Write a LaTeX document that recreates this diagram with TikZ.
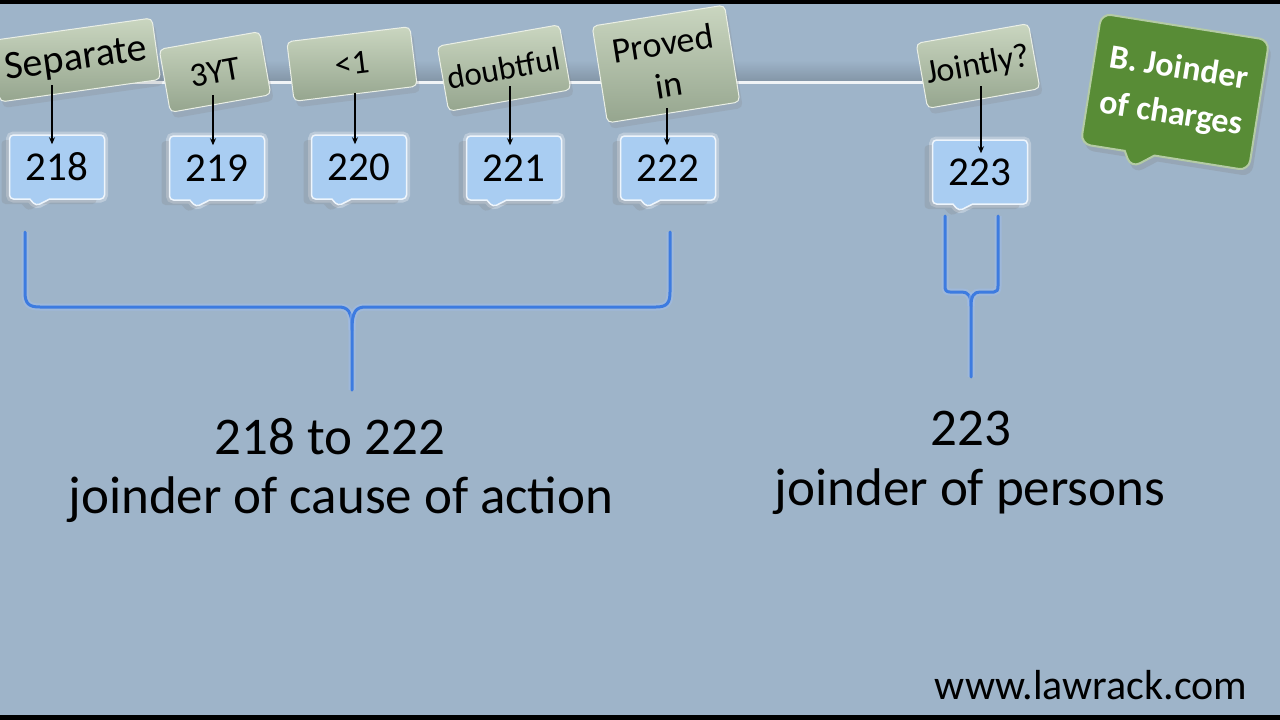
\documentclass[tikz,border=0pt]{standalone}
\usepackage{fontspec}
\setmainfont{Carlito}
\usetikzlibrary{shapes.callouts,shadows,arrows.meta,calc}
\definecolor{bg}{HTML}{9EB4C9}
\definecolor{numfill}{HTML}{A9CDF2}
\definecolor{labtop}{HTML}{CAD6C0}
\definecolor{labbot}{HTML}{95A58E}
\definecolor{bracec}{HTML}{3D7BE0}
\definecolor{grn}{HTML}{588C36}
\begin{document}
\begin{tikzpicture}[x=1pt,y=-1pt,
  numbox/.style={rectangle callout, rounded corners=4pt, minimum width=95pt, minimum height=64pt,
    inner sep=0pt, fill=numfill, draw=white!80!numfill, line width=1.5pt,
    preaction={draw=white,line width=7pt,opacity=0.3},
    callout absolute pointer={#1}, callout pointer width=20pt,
    font=\fontsize{41}{44}\selectfont,
    drop shadow={shadow xshift=-8pt,shadow yshift=-5pt,opacity=0.22}},
  labbox/.style={rectangle, rounded corners=5pt, top color=labtop, bottom color=labbot,
    draw=white!60!labtop, line width=1pt, inner sep=0pt, align=center,
    font=\fontsize{34}{38}\selectfont,
    drop shadow={shadow xshift=3pt,shadow yshift=-6pt,opacity=0.2}},
  greenbox/.style={rectangle callout, rounded corners=10pt, fill=grn, draw=white!55!grn,
    line width=2pt, minimum width=170pt, minimum height=132pt, inner sep=0pt,
    text=white, align=center, font=\bfseries\fontsize{34}{46}\selectfont,
    callout absolute pointer={(1131,168)}, callout pointer width=30pt,
    drop shadow={shadow xshift=3pt,shadow yshift=-6pt,opacity=0.25}},
  bigtxt/.style={font=\fontsize{53}{60}\selectfont, inner sep=0pt},
  arr/.style={-{Stealth[length=7pt,width=6pt]}, line width=1.1pt, black},
  bracestyle/.style={draw=bracec, line width=3pt, line cap=round, line join=round,
    preaction={draw=bracec!50!white, line width=7pt, opacity=0.45}}
]
\useasboundingbox (0,0) rectangle (1280,720);
\fill[bg] (0,0) rectangle (1280,720);
\fill[black] (0,0) rectangle (1280,4);
\fill[black] (0,715) rectangle (1280,720);

% horizontal band
\shade[top color=bg, bottom color=bg!84!black] (0,60) rectangle (930,80);
\draw[white!85!bg, line width=3pt] (0,82) -- (930,82);

% labels
\node[labbox, minimum width=162pt, minimum height=62pt, rotate=8, font=\fontsize{40}{44}\selectfont] (lSep) at (76,60) {Separate};
\node[labbox, minimum width=102pt, minimum height=64pt, rotate=10] (l3YT) at (215,72) {3YT};
\node[labbox, minimum width=124pt, minimum height=60pt, rotate=7] (lLt) at (352,64) {<1};
\node[labbox, minimum width=124pt, minimum height=66pt, rotate=10, font=\fontsize{33}{36}\selectfont] (lDou) at (504,68) {doubtful};
\node[labbox, minimum width=134pt, minimum height=98pt, rotate=9, font=\fontsize{36}{42}\selectfont] (lPro) at (666,64) {Proved\\in};
\node[labbox, minimum width=114pt, minimum height=66pt, rotate=10] (lJoi) at (978,66) {Jointly?};

% number boxes
\node[numbox={(36,206)}] (n218) at (57,167) {218};
\node[numbox={(196,207)}] (n219) at (217,168) {219};
\node[numbox={(338,206)}] (n220) at (359,167) {220};
\node[numbox={(493,207)}] (n221) at (514,168) {221};
\node[numbox={(647,207)}] (n222) at (668,168) {222};
\node[numbox={(959,211)}] (n223) at (980,172) {223};

% arrows
\draw[arr] ([xshift=-5pt,yshift=-25pt]lSep.center -| n218.north) -- ([xshift=-5pt,yshift=-10pt]n218.north);
\draw[arr] ([xshift=-4pt,yshift=-23pt]l3YT.center -| n219.north) -- ([xshift=-4pt,yshift=-10pt]n219.north);
\draw[arr] ([xshift=-4pt,yshift=-29pt]lLt.center -| n220.north) -- ([xshift=-4pt,yshift=-10pt]n220.north);
\draw[arr] ([xshift=-4pt,yshift=-18pt]lDou.center -| n221.north) -- ([xshift=-4pt,yshift=-10pt]n221.north);
\draw[arr] ([xshift=-1pt,yshift=-44pt]lPro.center -| n222.north) -- ([xshift=-1pt,yshift=-10pt]n222.north);
\draw[arr] ([xshift=1pt,yshift=-20pt]lJoi.center -| n223.north) -- ([xshift=1pt,yshift=-14pt]n223.north);

% green callout
\node[greenbox, rotate=-9] (title) at (1175,92) {B. Joinder\\of charges};

% braces
\draw[bracestyle] (25,232) -- (25,292) .. controls (25,304) and (29,307) .. (40,307) -- (338,307)
  .. controls (348,307) and (352,311) .. (352,330) -- (352,390);
\draw[bracestyle] (352,330) .. controls (352,311) and (356,307) .. (366,307) -- (656,307)
  .. controls (667,307) and (670,303) .. (670,292) -- (670,232);
\draw[bracestyle] (945,216) -- (945,286) .. controls (945,290) and (946,292) .. (950,292) -- (962,292)
  .. controls (968,292) and (971,296) .. (971,306) -- (971,377);
\draw[bracestyle] (971,306) .. controls (971,296) and (974,292) .. (980,292) -- (994,292)
  .. controls (997,292) and (998,290) .. (998,286) -- (998,216);

% texts
\node[bigtxt] (t1) at (330,437) {218 to 222};
\node[bigtxt] (t2) at (341,500) {joinder of cause of action};
\node[bigtxt] (t3) at (971,428) {223};
\node[bigtxt] (t4) at (970,492) {joinder of persons};
\node[font=\fontsize{42}{46}\selectfont, inner sep=0pt] (web) at (1091,685) {www.lawrack.com};
\end{tikzpicture}
\end{document}
